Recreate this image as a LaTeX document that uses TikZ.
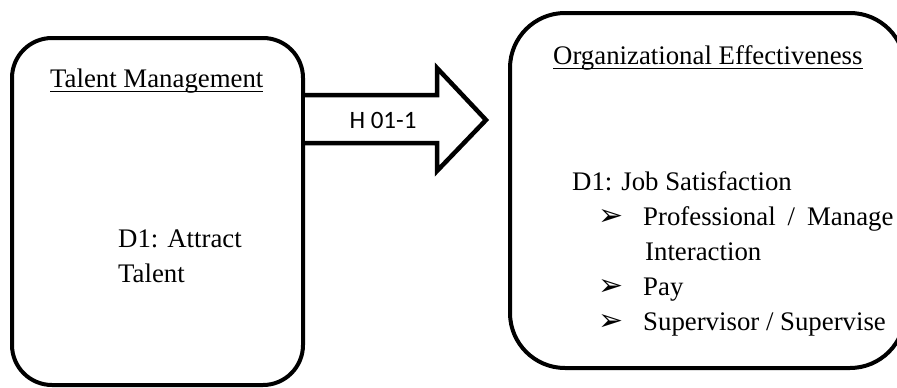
\documentclass[tikz,border=0pt]{standalone}
\usepackage{fontspec}
\setmainfont{Liberation Serif}
\newfontfamily\hypfont{Carlito}
\newfontfamily\dingfont{DejaVu Sans}
\usetikzlibrary{positioning}

\newcommand\headline[1]{\setbox0\hbox{#1}\rlap{\rule[-5pt]{\wd0}{1.4pt}}\box0}

\tikzset{
  panel/.style={draw=black,line width=4pt,inner sep=0pt},
  word/.style={anchor=base west,inner sep=0pt,font=\fontsize{26.8}{35}\selectfont},
  tick/.style={anchor=base west,inner sep=0pt,font=\dingfont\fontsize{30}{30}\selectfont}
}

\begin{document}
\begin{tikzpicture}[x=1pt,y=-1pt]
      \useasboundingbox (0,0) rectangle (897,388);
      \clip (0,0) rectangle (897,388);

      % the two boxes
      \node[panel,rounded corners=40pt,minimum width=291pt,minimum height=347pt]
        (tm) at (157.5,211.5) {};
      \node[panel,rounded corners=55pt,minimum width=395pt,minimum height=355pt]
        (oe) at (707.5,190.5) {};

      % block arrow from the left box
      \coordinate (a1) at (tm.east |- 0,95);
      \coordinate (a2) at (tm.east |- 0,143);
      \draw[line width=4.5pt,line join=miter,fill=white]
        (a1) -- (437,95) -- (437,68) -- (486,120) -- (437,171) -- (437,143) -- (a2);
      \node[inner sep=0pt,font=\hypfont\fontsize{25}{30}\selectfont]
        (hyp) at (383,120) {H 01-1};

      % left box texts
      \node[word] (tmhead) at (50,87) {\headline{Talent Management}};
      \node[word] (tmd1) at (118,247) {D1: Attract};
      \node[word] (tmd1b) at (118,282) {Talent};

      % right box texts
      \node[word] (oehead) at (553,64) {\headline{Organizational Effectiveness}};
      \node[word] (oed1) at (572,190) {D1: Job Satisfaction};
      \node[word] (oe1b) at (645,260) {Interaction};

      \foreach \yy/\str in {225/{Professional\hspace{12pt}/\hspace{12pt}Manage},
                            295/{Pay},
                            330/{Supervisor / Supervise}}
      {\node[tick] at (598,\yy) {➢};
       \node[word] at (643,\yy) {\str};
      };
\end{tikzpicture}
\end{document}
